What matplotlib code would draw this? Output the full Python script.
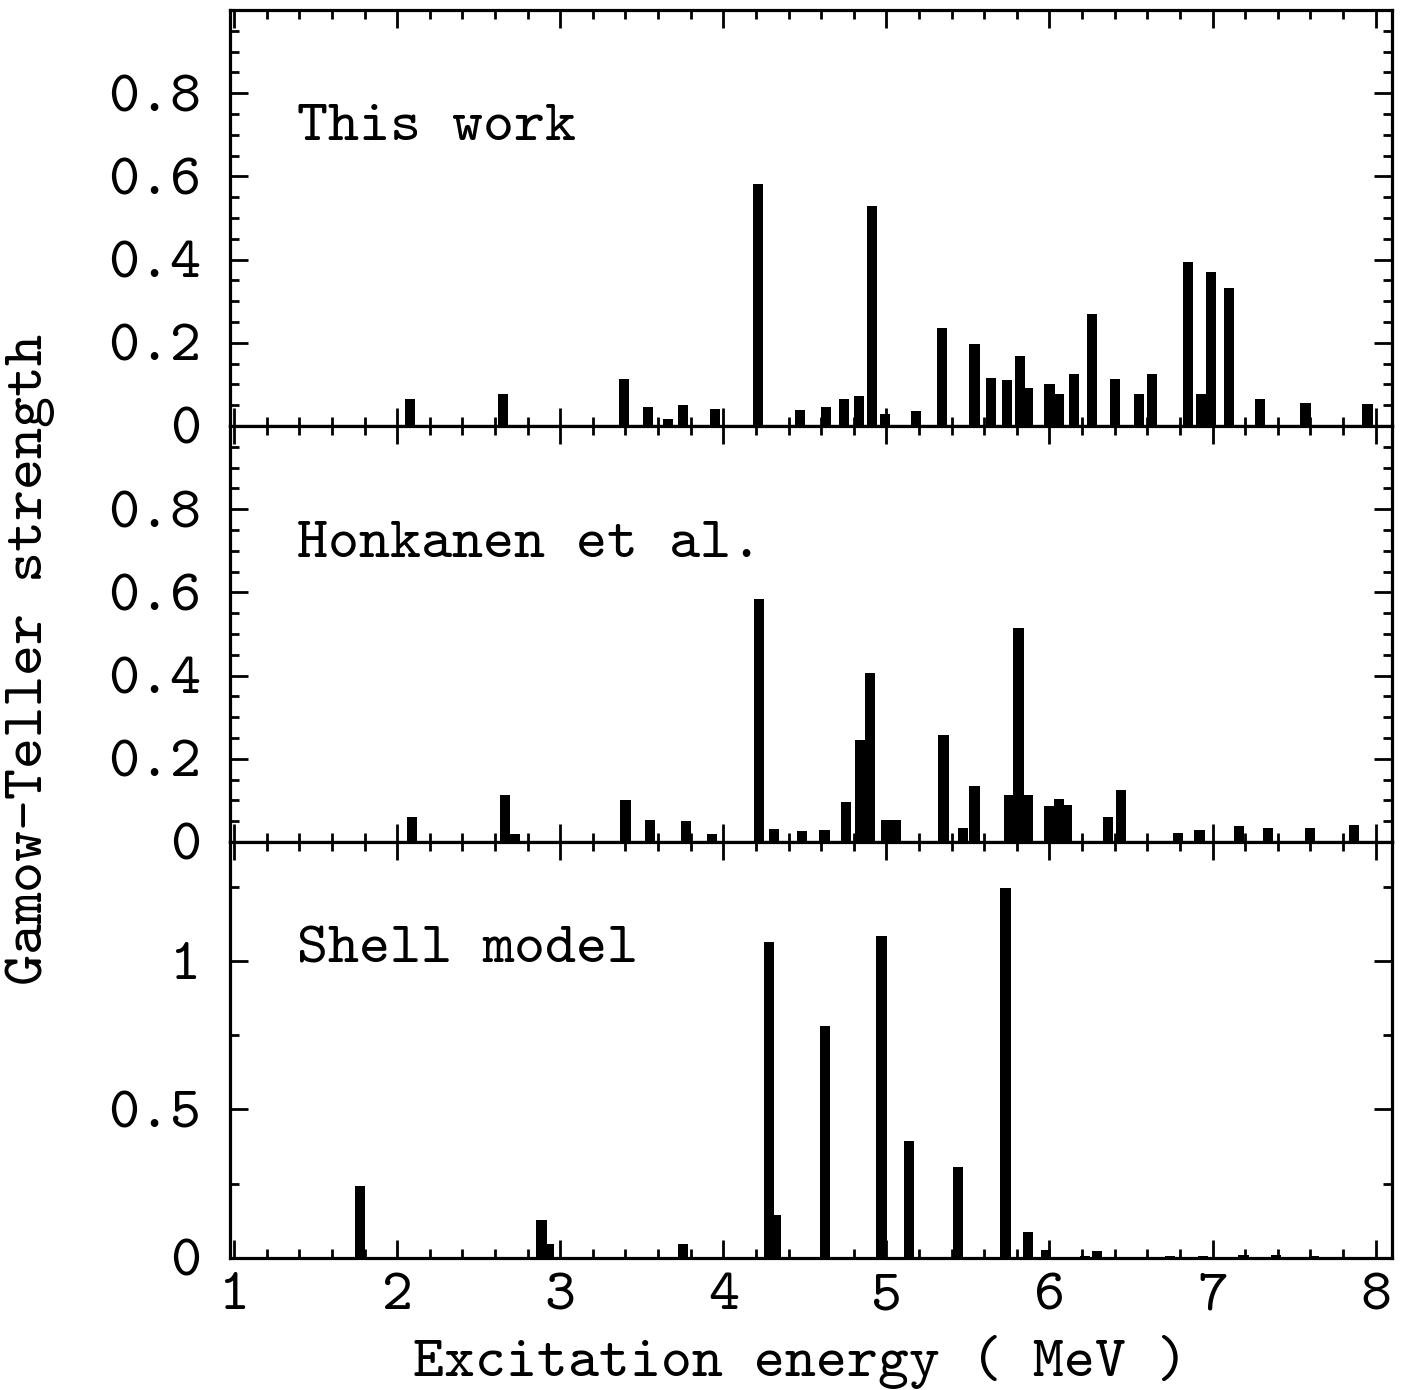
import numpy as np
import matplotlib.pyplot as plt
from matplotlib.ticker import MultipleLocator, FuncFormatter

plt.rcParams['font.family'] = ['cmtt10', 'Liberation Mono', 'DejaVu Sans Mono']
plt.rcParams['font.size'] = 42.5
plt.rcParams['axes.unicode_minus'] = False

# GT strength distributions: excitation energy (MeV) and B(GT)
this_work_E = [2.08, 2.65, 3.39, 3.54, 3.66, 3.75, 3.95, 4.21, 4.47, 4.63, 4.74, 4.83,
               4.91, 4.99, 5.18, 5.34, 5.54, 5.64, 5.74, 5.82, 5.87, 6.00, 6.06, 6.15,
               6.26, 6.40, 6.55, 6.63, 6.85, 6.93, 6.99, 7.10, 7.29, 7.57, 7.95]
this_work_B = [0.066, 0.076, 0.113, 0.045, 0.018, 0.050, 0.042, 0.581, 0.039, 0.045, 0.065, 0.073,
               0.530, 0.030, 0.035, 0.236, 0.198, 0.115, 0.111, 0.168, 0.092, 0.102, 0.078, 0.125,
               0.270, 0.114, 0.076, 0.125, 0.395, 0.078, 0.370, 0.332, 0.065, 0.056, 0.053]

honkanen_E = [2.09, 2.66, 2.72, 3.40, 3.55, 3.77, 3.93, 4.22, 4.31, 4.48, 4.62, 4.75,
              4.84, 4.90, 5.00, 5.06, 5.35, 5.47, 5.54, 5.75, 5.81, 5.87, 6.00, 6.06,
              6.11, 6.36, 6.44, 6.79, 6.92, 7.16, 7.34, 7.60, 7.87]
honkanen_B = [0.061, 0.112, 0.020, 0.101, 0.054, 0.050, 0.019, 0.584, 0.030, 0.027, 0.029, 0.095,
              0.245, 0.405, 0.054, 0.054, 0.257, 0.033, 0.135, 0.114, 0.515, 0.114, 0.086, 0.103,
              0.090, 0.059, 0.126, 0.021, 0.029, 0.038, 0.034, 0.033, 0.041]

shell_E = [1.77, 2.885, 2.93, 3.75, 4.28, 4.32, 4.625, 4.97, 5.14, 5.44, 5.73, 5.87,
           5.98, 6.22, 6.29, 6.50, 6.74, 6.94, 7.19, 7.39, 7.62]
shell_B = [0.241, 0.127, 0.048, 0.048, 1.065, 0.143, 0.780, 1.083, 0.392, 0.305, 1.245, 0.086,
           0.026, 0.005, 0.022, 0.003, 0.008, 0.005, 0.011, 0.011, 0.006]

panels = [
    ("This work", this_work_E, this_work_B, 1.0, 0.2, 0.05, 0.716),
    ("Honkanen et al.", honkanen_E, honkanen_B, 1.0, 0.2, 0.05, 0.712),
    ("Shell model", shell_E, shell_B, 1.4, 0.5, 0.25, 0.737),
]

fig = plt.figure(figsize=(14.13, 13.90), dpi=100)
left, right = 0.1628, 0.9851
bottom, top = 0.0950, 0.9928
h = (top - bottom) / 3

def ylab(v, pos):
    return "0" if v == 0 else "%g" % v

axes = []
for i, (name, E, B, ymax, major, minor, ty) in enumerate(panels):
    ax = fig.add_axes([left, top - (i + 1) * h, right - left, h],
                      sharex=axes[0] if axes else None)
    axes.append(ax)
    ax.bar(E, B, width=0.062, color='black', edgecolor='none', align='center')
    ax.set_xlim(0.975, 8.10)
    ax.set_ylim(0, ymax)
    ax.xaxis.set_major_locator(MultipleLocator(1))
    ax.xaxis.set_minor_locator(MultipleLocator(0.2))
    ax.yaxis.set_major_locator(MultipleLocator(major))
    ax.yaxis.set_minor_locator(MultipleLocator(minor))
    ax.yaxis.set_major_formatter(FuncFormatter(ylab))
    ax.tick_params(which='both', direction='in', top=True, right=True, width=2.0)
    ax.tick_params(which='major', length=13)
    ax.tick_params(which='minor', length=6.5)
    ax.tick_params(axis='y', pad=21)
    ax.tick_params(axis='x', pad=11)
    for s in ax.spines.values():
        s.set_linewidth(2.3)
    # drop the top label so stacked panels don't collide
    ticks = [t for t in np.arange(0, ymax + 1e-9, major) if t < ymax - 1e-6]
    ax.set_yticks(ticks)
    ax.text(0.058, ty, name, transform=ax.transAxes, ha='left', va='center')
    if i < 2:
        ax.tick_params(axis='x', labelbottom=False)

fig.text(30 / 1413, 1 - 660 / 1390, "Gamow-Teller strength", rotation=90,
         ha='center', va='center')
fig.text(800 / 1413, 1 - 1362 / 1390, "Excitation energy ( MeV )",
         ha='center', va='center')

fig.savefig("out.png", dpi=100)
